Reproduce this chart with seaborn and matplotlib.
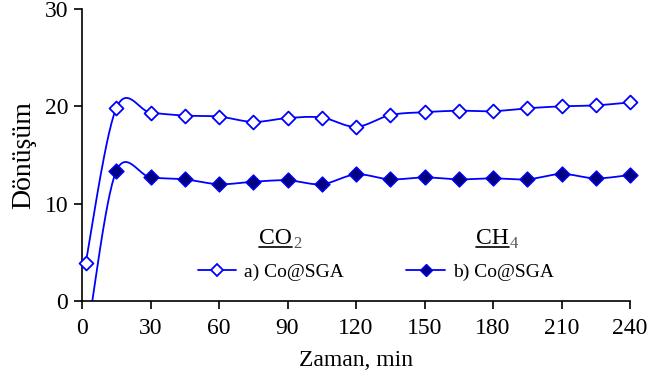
import numpy as np
import pandas as pd
import matplotlib
matplotlib.use("Agg")
import matplotlib.pyplot as plt
import seaborn as sns
from matplotlib.lines import Line2D


time_a = [1.6, 15, 30, 45, 60, 75, 90, 105, 120, 135, 150, 165, 180, 195, 210, 225, 240]
conv_a = [3.9, 19.8, 19.35, 19.05, 18.95, 18.4, 18.8, 18.85, 17.9, 19.1, 19.4, 19.55, 19.5, 19.8, 20.0, 20.1, 20.4]

time_b = [3.5, 15, 30, 45, 60, 75, 90, 105, 120, 135, 150, 165, 180, 195, 210, 225, 240]
conv_b = [-1.5, 13.35, 12.7, 12.5, 12.0, 12.25, 12.4, 12.0, 13.0, 12.5, 12.7, 12.5, 12.6, 12.5, 13.05, 12.6, 12.95]

labels = ["a) Co@SGA", "b) Co@SGA"]
gases = [("CO", "2"), ("CH", "4")]
x_ticks = [0, 30, 60, 90, 120, 150, 180, 210, 240]
y_ticks = [0, 10, 20, 30]


def smooth(xs, ys, n=30):
    # bezier smoothing like the spreadsheet "smoothed line" option
    p = np.column_stack([xs, ys]).astype(float)
    out = []
    for i in range(len(p) - 1):
        p0 = p[i - 1] if i > 0 else p[i]
        p1, p2 = p[i], p[i + 1]
        p3 = p[i + 2] if i + 2 < len(p) else p[i + 1]
        c1 = p1 + (p2 - p0) / 6
        c2 = p2 - (p3 - p1) / 6
        t = np.linspace(0, 1, n)[:, None]
        seg = ((1 - t) ** 3) * p1 + 3 * ((1 - t) ** 2) * t * c1 + 3 * (1 - t) * t ** 2 * c2 + t ** 3 * p2
        out.append(seg if i == 0 else seg[1:])
    seg = np.vstack(out)
    return pd.DataFrame({"x": seg[:, 0], "y": seg[:, 1]})


sns.set_style("ticks")
plt.rcParams["font.family"] = ["Liberation Serif", "DejaVu Serif"]
plt.rcParams["text.color"] = "black"
plt.rcParams["axes.labelcolor"] = "black"

fig = plt.figure(figsize=(6.48, 3.83), dpi=100)
ax = fig.add_axes([82 / 648, 1 - 301 / 383, 548 / 648, 292 / 383])

blue = "#0000FF"
navy = "#000080"

df_a = pd.DataFrame({"x": time_a, "y": conv_a})
df_b = pd.DataFrame({"x": time_b, "y": conv_b})
# the first b point lies below the axis; only its line segment shows
df_b_vis = df_b[df_b["y"] >= 0]

sns.lineplot(data=smooth(time_a, conv_a), x="x", y="y", sort=False, color=blue, lw=1.3, ax=ax)
sns.lineplot(data=smooth(time_b, conv_b), x="x", y="y", sort=False, color=blue, lw=1.3, ax=ax)
sns.scatterplot(data=df_a, x="x", y="y", marker="D", s=50, facecolor="white",
                edgecolor=blue, linewidth=1.3, ax=ax, zorder=3, clip_on=False)
sns.scatterplot(data=df_b_vis, x="x", y="y", marker="D", s=58, facecolor=navy,
                edgecolor=blue, linewidth=1.0, ax=ax, zorder=3, clip_on=False)

ax.set_xlim(0, 240)
ax.set_ylim(0, 30)
ax.set_xticks(x_ticks)
ax.set_yticks(y_ticks)
ax.tick_params(axis="both", labelsize=17, width=1.2, length=6, color="black", labelcolor="black")
ax.tick_params(axis="x", pad=6)
ax.tick_params(axis="y", pad=4)
sns.despine(ax=ax)
for s in ["left", "bottom"]:
    ax.spines[s].set_linewidth(1.2)
    ax.spines[s].set_color("black")

ax.set_xlabel("Zaman, min", fontsize=17, labelpad=8)
ax.set_ylabel("Dönüşüm", fontsize=20, labelpad=6)

handles = [
    Line2D([], [], color=blue, lw=1.3, marker="D", ms=6, mfc="white", mec=blue, mew=1.3),
    Line2D([], [], color=blue, lw=1.3, marker="D", ms=6.5, mfc=navy, mec=blue, mew=1.0),
]
ax.legend(handles, labels, ncol=2, frameon=False, fontsize=14, loc="center",
          bbox_to_anchor=(0.536, 0.099), handlelength=2.0, handletextpad=0.4,
          columnspacing=3.2, borderpad=0, labelcolor="black")

# underlined gas names with subscripts above the legend entries
heads = []
for (base, sub), xl in zip(gases, [259, 476]):
    t = fig.text(xl / 648, 1 - 244 / 383, base, fontsize=17, ha="left", va="baseline")
    heads.append((t, sub))
fig.canvas.draw()
r = fig.canvas.get_renderer()
for t, sub in heads:
    bb = t.get_window_extent(r)
    x0, x1 = bb.x0 / 648, bb.x1 / 648
    yb = (383 - 244) / 383
    fig.add_artist(Line2D([x0, x1], [yb - 3 / 383, yb - 3 / 383], color="black", lw=1.2))
    fig.text(x1 + 1 / 648, yb - 4 / 383, sub, fontsize=12, color="#555555",
             ha="left", va="baseline")

fig.savefig("out.png", dpi=100)
